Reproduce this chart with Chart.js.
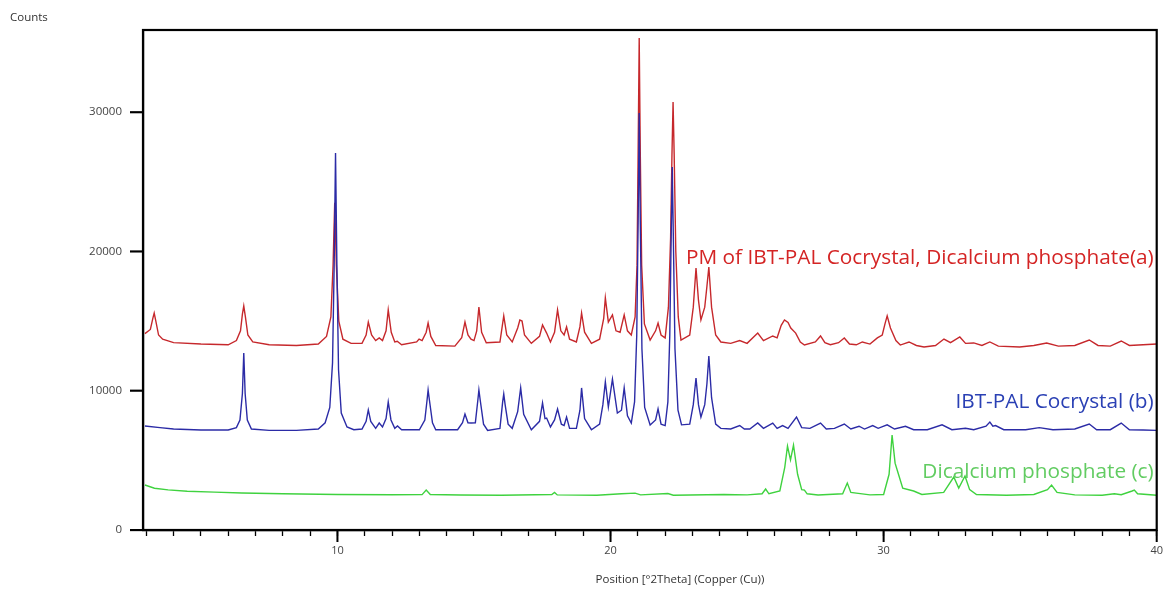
<!DOCTYPE html>
<html>
<head>
<meta charset="utf-8">
<script src="https://cdn.jsdelivr.net/npm/chart.js"></script>
<style>
  html, body { margin: 0; padding: 0; background: #fff; }
  #wrap { position: relative; width: 1171px; height: 590px; }
</style>
</head>
<body>
<div id="wrap"><canvas id="xrd"></canvas></div>
<script>
// 2theta positions / counts
var bluePos = [2.95,3.5,4.0,5.0,6.0,6.3,6.43,6.52,6.57,6.62,6.7,6.85,7.5,8.5,9.3,9.55,9.72,9.82,9.88,9.93,9.98,10.04,10.14,10.35,10.6,10.9,11.05,11.13,11.22,11.4,11.53,11.65,11.78,11.86,11.96,12.1,12.2,12.35,13.0,13.2,13.28,13.32,13.37,13.48,13.6,14.4,14.58,14.67,14.78,14.89,15.05,15.14,15.18,15.23,15.35,15.5,15.95,16.05,16.09,16.14,16.25,16.4,16.6,16.71,16.82,17.1,17.4,17.51,17.6,17.66,17.8,17.95,18.06,18.2,18.3,18.39,18.5,18.75,18.88,18.94,19.05,19.3,19.6,19.72,19.81,19.92,20.07,20.25,20.4,20.5,20.62,20.76,20.88,20.96,21.01,21.05,21.09,21.15,21.25,21.45,21.65,21.74,21.85,22.0,22.1,22.17,22.22,22.26,22.3,22.36,22.47,22.6,22.9,23.03,23.13,23.22,23.31,23.45,23.53,23.6,23.7,23.85,24.04,24.4,24.73,24.9,25.1,25.39,25.6,25.94,26.1,26.3,26.5,26.81,27.0,27.3,27.69,27.9,28.2,28.56,28.8,29.1,29.3,29.6,29.8,30.13,30.4,30.8,31.1,31.6,32.14,32.5,33.0,33.3,33.75,33.89,34.0,34.1,34.4,35.2,35.7,36.2,37.0,37.53,37.8,38.3,38.7,39.0,39.5,40.0];
var blueCounts = [7470,7350,7250,7180,7180,7350,7900,9800,12710,9800,7900,7250,7150,7150,7250,7700,8800,12000,19000,27070,19000,11500,8400,7400,7200,7250,7800,8620,7800,7300,7680,7400,8000,9190,7900,7300,7470,7200,7200,7900,9300,10050,9300,7700,7200,7200,7700,8330,7700,7680,7700,9300,10050,9300,7600,7150,7300,9200,9760,9000,7600,7300,8500,10200,8300,7200,7800,9120,8000,8040,7400,7900,8690,7600,7500,8110,7300,7300,8600,10200,8000,7200,7600,9000,10630,8830,10840,8400,8600,10200,8200,7680,9200,14000,22000,29940,22000,13000,8800,7540,7900,8690,7600,7500,9200,14000,21000,26060,21000,13000,8600,7550,7600,9000,10910,9000,8110,9000,10500,12490,9500,7600,7300,7250,7500,7250,7250,7680,7300,7680,7300,7500,7300,8110,7350,7300,7680,7250,7300,7610,7250,7450,7250,7500,7300,7550,7250,7450,7200,7200,7550,7200,7300,7200,7450,7750,7450,7500,7200,7200,7350,7200,7250,7610,7200,7200,7680,7200,7180,7150];

var redPos = [2.95,3.15,3.24,3.29,3.35,3.45,3.6,4.0,5.0,6.0,6.3,6.45,6.52,6.57,6.63,6.72,6.9,7.5,8.5,9.3,9.6,9.76,9.84,9.9,9.96,10.05,10.2,10.5,10.9,11.05,11.13,11.25,11.4,11.53,11.65,11.78,11.86,11.97,12.1,12.19,12.35,12.9,12.99,13.1,13.25,13.32,13.42,13.6,14.3,14.55,14.67,14.78,14.89,15.0,15.1,15.18,15.28,15.45,15.95,16.09,16.2,16.4,16.6,16.68,16.76,16.85,17.1,17.4,17.51,17.66,17.8,17.95,18.06,18.18,18.3,18.39,18.5,18.75,18.88,18.94,19.05,19.3,19.6,19.75,19.81,19.92,20.07,20.2,20.35,20.5,20.62,20.76,20.9,20.97,21.01,21.05,21.09,21.14,21.24,21.45,21.65,21.74,21.85,22.0,22.12,22.2,22.25,22.29,22.33,22.39,22.48,22.58,22.9,23.03,23.13,23.22,23.31,23.45,23.53,23.6,23.7,23.85,24.04,24.4,24.73,25.0,25.39,25.6,25.94,26.1,26.25,26.37,26.5,26.6,26.78,26.95,27.1,27.5,27.69,27.85,28.05,28.35,28.56,28.75,29.0,29.22,29.5,29.77,29.95,30.05,30.13,30.25,30.45,30.61,30.93,31.2,31.48,31.9,32.21,32.45,32.79,33.0,33.3,33.6,33.89,34.2,34.98,35.5,35.97,36.4,37.0,37.53,37.85,38.3,38.7,39.0,39.5,40.0];
var redCounts = [14100,14400,15200,15580,15000,14000,13700,13450,13350,13300,13600,14300,15500,16080,15300,14000,13500,13300,13250,13350,13900,15300,19000,23500,19000,15000,13700,13400,13400,14000,14930,14000,13600,13790,13600,14300,15800,14200,13500,13550,13300,13500,13710,13600,14200,14860,13900,13250,13200,13800,14930,14000,13700,13600,14300,16010,14200,13450,13500,15370,14000,13500,14500,15080,15000,14000,13400,13900,14720,14140,13500,14200,15800,14300,14000,14580,13700,13500,14600,15580,14200,13400,13700,15200,16660,14930,15440,14300,14200,15440,14300,14000,15300,19000,27000,35330,27000,19000,14800,13640,14300,14860,14000,13790,16000,21000,27000,30730,27000,20000,15300,13640,14000,16000,18810,16500,15080,16000,17500,18880,16000,14000,13500,13400,13600,13400,14140,13600,13930,13800,14700,15080,14900,14500,14140,13500,13280,13500,13930,13450,13300,13450,13790,13350,13300,13500,13350,13790,14000,14800,15370,14500,13600,13280,13500,13250,13140,13250,13710,13450,13860,13400,13430,13250,13500,13200,13140,13250,13430,13200,13250,13640,13250,13200,13570,13250,13300,13350];

var greenPos = [2.95,3.3,3.8,4.5,5.5,6.5,8.0,10.0,12.0,13.1,13.25,13.4,14.5,16.0,17.85,17.95,18.05,19.5,20.4,20.9,21.1,22.1,22.3,24.15,25.0,25.55,25.68,25.8,26.2,26.38,26.48,26.59,26.7,26.85,27.0,27.1,27.2,27.6,28.5,28.67,28.8,29.0,29.5,30.0,30.2,30.31,30.42,30.53,30.7,31.1,31.4,32.2,32.57,32.75,32.98,33.15,33.4,34.5,35.5,36.0,36.15,36.35,37.0,38.0,38.45,38.7,39.1,39.18,39.3,40.0];
var greenCounts = [3230,3000,2880,2780,2720,2660,2600,2550,2530,2540,2870,2550,2510,2500,2550,2700,2520,2500,2600,2650,2520,2620,2500,2550,2520,2600,2940,2600,2800,4500,6030,5030,6100,4000,2900,2870,2600,2510,2600,3370,2700,2650,2520,2550,4000,6820,4800,4090,3000,2800,2550,2700,3800,3010,3880,2900,2550,2500,2550,2900,3230,2700,2520,2500,2600,2530,2800,2870,2600,2500];

var seriesNames = ["IBT-PAL Cocrystal (b)", "PM of IBT-PAL Cocrystal, Dicalcium phosphate(a)", "Dicalcium phosphate (c)"];
var labelCounts = [9190, 19530, 4160];
var yTicks = [0, 10000, 20000, 30000];
var xLabels = [10, 20, 30, 40];

function pts(xs, ys) {
    return xs.map(function (x, i) { return {x: x, y: ys[i]}; });
}

var lineColors = ["#2b2ba6", "#c6282c", "#3fd23f"];
var textColors = ["#2a40b4", "#d42424", "#62cc62"];

// frame, longer major ticks and the text bits
var decor = {
    id: 'decor',
    afterDraw: function (chart) {
        var ctx = chart.ctx, a = chart.chartArea;
        var xs = chart.scales.x, ys = chart.scales.y;
        ctx.save();
        ctx.strokeStyle = '#000';
        ctx.lineWidth = 2.2;
        ctx.strokeRect(a.left, a.top, a.right - a.left, a.bottom - a.top);
        ctx.fillStyle = '#000';
        xLabels.forEach(function (v) {
            var px = xs.getPixelForValue(v);
            ctx.fillRect(px - 1, a.bottom, 2, 12);
        });
        yTicks.forEach(function (v) {
            var py = ys.getPixelForValue(v);
            ctx.fillRect(a.left - 13, py - 1, 13, 2);
        });
        ctx.font = '20.8px "Open Sans"';
        ctx.textAlign = 'right';
        ctx.textBaseline = 'middle';
        seriesNames.forEach(function (t, i) {
            ctx.fillStyle = textColors[i];
            ctx.fillText(t, xs.getPixelForValue(40) - 3, ys.getPixelForValue(labelCounts[i]));
        });
        ctx.fillStyle = '#333';
        ctx.font = '11.5px "Open Sans"';
        ctx.textAlign = 'left';
        ctx.fillText('Counts', 10, 18);
        ctx.textAlign = 'center';
        ctx.fillText('Position [°2Theta] (Copper (Cu))', 680, 580);
        ctx.restore();
    }
};

new Chart(document.getElementById('xrd'), {
    type: 'line',
    data: {
        datasets: [0, 1, 2].map(function (i) {
            var xs = [bluePos, redPos, greenPos][i];
            var ys = [blueCounts, redCounts, greenCounts][i];
            return {
                label: seriesNames[i],
                data: pts(xs, ys),
                borderColor: lineColors[i],
                borderWidth: 1.4,
                pointRadius: 0,
                tension: 0,
                fill: false
            };
        })
    },
    options: {
        responsive: true,
        maintainAspectRatio: false,
        animation: false,
        events: [],
        layout: { padding: { top: 30, right: 11, left: 0, bottom: 0 } },
        plugins: { legend: { display: false }, tooltip: { enabled: false } },
        scales: {
            x: {
                type: 'linear',
                min: 2.88,
                max: 40,
                afterFit: function (s) { s.height = 60; },
                grid: { drawOnChartArea: false, tickLength: 6, tickColor: '#000', tickWidth: 1.3 },
                border: { color: '#000', width: 2.2 },
                ticks: {
                    stepSize: 1,
                    includeBounds: false,
                    autoSkip: false,
                    maxRotation: 0,
                    padding: 8,
                    color: '#444',
                    font: { family: 'Open Sans', size: 11 },
                    callback: function (v) { return xLabels.indexOf(v) >= 0 ? String(v) : ''; }
                }
            },
            y: {
                min: 0,
                max: 35900,
                afterFit: function (s) { s.width = 143; },
                afterBuildTicks: function (s) {
                    s.ticks = yTicks.map(function (v) { return {value: v}; });
                },
                grid: { drawOnChartArea: false, tickLength: 13, tickColor: '#000', tickWidth: 1.3 },
                border: { color: '#000', width: 2.2 },
                ticks: {
                    autoSkip: false,
                    padding: 8,
                    color: '#444',
                    font: { family: 'Open Sans', size: 11.5 },
                    callback: function (v) { return String(v); }
                }
            }
        }
    },
    plugins: [decor]
});
</script>
</body>
</html>
